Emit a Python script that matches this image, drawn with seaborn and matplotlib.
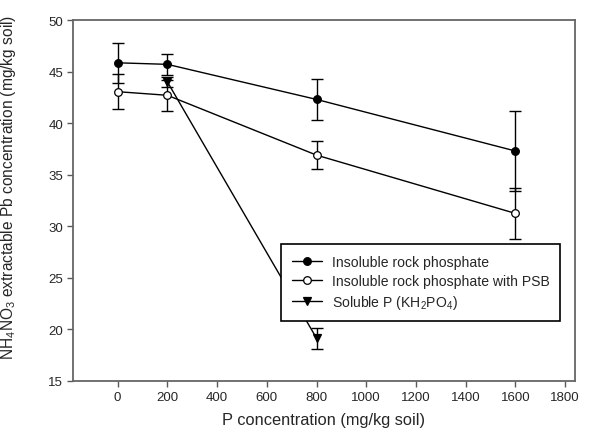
import matplotlib
matplotlib.use("Agg")
import matplotlib.pyplot as plt
import seaborn as sns
import pandas as pd

# ---- data ----
x_rock = [0, 200, 800, 1600]
y_rock = [45.85, 45.7, 42.3, 37.3]
e_rock = [1.95, 1.0, 2.0, 3.9]

x_psb = [0, 200, 800, 1600]
y_psb = [43.05, 42.7, 36.9, 31.25]
e_psb = [1.7, 1.5, 1.33, 2.5]

x_sol = [200, 800]
y_sol = [44.0, 19.15]
e_sol = [0.5, 1.0]

labels = ["Insoluble rock phosphate",
          "Insoluble rock phosphate with PSB",
          r"Soluble P (KH$_2$PO$_4$)"]
x_ticks = [0, 200, 400, 600, 800, 1000, 1200, 1400, 1600, 1800]
y_ticks = [15, 20, 25, 30, 35, 40, 45, 50]

sns.set_theme(style="ticks")
plt.rcParams["font.family"] = ["Liberation Sans", "DejaVu Sans"]
plt.rcParams["mathtext.fontset"] = "custom"
plt.rcParams["mathtext.rm"] = "Liberation Sans"
plt.rcParams["mathtext.it"] = "Liberation Sans"
plt.rcParams["mathtext.default"] = "regular"

df = pd.concat([
    pd.DataFrame({"x": x_rock, "y": y_rock, "e": e_rock, "s": labels[0]}),
    pd.DataFrame({"x": x_psb, "y": y_psb, "e": e_psb, "s": labels[1]}),
    pd.DataFrame({"x": x_sol, "y": y_sol, "e": e_sol, "s": labels[2]}),
], ignore_index=True)

fig = plt.figure(figsize=(5.92, 4.39), dpi=100)
ax = fig.add_axes([72.7 / 592, 1 - 382 / 439, (575 - 72.7) / 592, (382 - 21) / 439])

styles = {
    labels[0]: dict(marker="o", mfc="black", mec="black"),
    labels[1]: dict(marker="o", mfc="white", mec="black"),
    labels[2]: dict(marker="v", mfc="black", mec="black"),
}

for lab in labels:
    sub = df[df["s"] == lab]
    ax.errorbar(sub["x"], sub["y"], yerr=sub["e"], fmt="none", ecolor="black",
                elinewidth=1.0, capsize=4, capthick=1.0, zorder=2)

for lab in labels:
    sub = df[df["s"] == lab]
    st = styles[lab]
    sns.lineplot(data=sub, x="x", y="y", ax=ax, color="black", linewidth=1.0,
                 marker=st["marker"], markersize=5.5,
                 markerfacecolor=st["mfc"], markeredgecolor=st["mec"],
                 markeredgewidth=0.9, label=lab, zorder=3, errorbar=None)

ax.set_xlim(-181, 1840)
ax.set_ylim(15, 50)
ax.set_xticks(x_ticks)
ax.set_yticks(y_ticks)
ax.tick_params(direction="out", length=4.5, width=1.0, color="0.35",
               labelsize=9.5, pad=2.5)
for sp in ax.spines.values():
    sp.set_color("0.4")
    sp.set_linewidth(1.3)
    sp.set_visible(True)

ax.set_xlabel("P concentration (mg/kg soil)", fontsize=11.8, labelpad=7)
ax.set_ylabel(r"NH$_4$NO$_3$ extractable Pb concentration (mg/kg soil)",
              fontsize=11.2)
ax.yaxis.set_label_coords(-0.108, 0.54)

leg = ax.legend(loc="upper left", bbox_to_anchor=(0.4147, 0.3795),
                borderaxespad=0, fontsize=10.1, frameon=True, fancybox=False,
                edgecolor="black", framealpha=1, handlelength=2.2,
                handletextpad=0.65, labelspacing=0.36, borderpad=0.75)
leg.get_frame().set_linewidth(1.2)

fig.savefig("out.png", dpi=100)
